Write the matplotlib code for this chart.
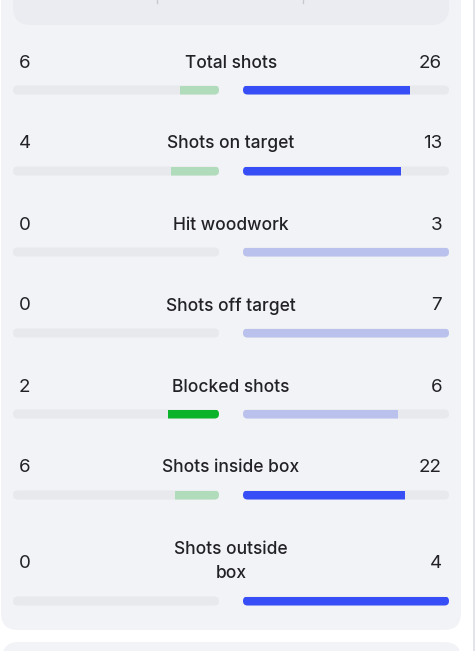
import matplotlib.pyplot as plt
from matplotlib.patches import FancyBboxPatch

# Shot stats, home vs away
labels = ["Total shots", "Shots on target", "Hit woodwork", "Shots off target",
          "Blocked shots", "Shots inside box", "Shots outside\nbox"]
home = [6, 4, 0, 0, 2, 6, 0]
away = [26, 13, 3, 7, 6, 22, 4]
# which side gets the strong colour in each row
strong = ["away", "away", "", "", "home", "away", "away"]

GREEN, GREEN_L = "#0bb32a", "#b0dcbb"
BLUE, BLUE_L = "#374df5", "#bac1ec"
TRACK = "#e8e9ec"
PANEL = "#f2f3f7"
TXT = "#222226"

plt.rcParams['font.family'] = ['Inter', 'DejaVu Sans']

fig = plt.figure(figsize=(4.75, 6.51), dpi=100)
fig.patch.set_facecolor("white")
ax = fig.add_axes([0, 0, 1, 1])
ax.set_xlim(0, 475)
ax.set_ylim(651, 0)
ax.axis("off")

# panel backgrounds
ax.add_patch(FancyBboxPatch((1, -40), 460, 670, boxstyle="round,pad=0,rounding_size=17",
                            fc=PANEL, ec="none"))
ax.add_patch(FancyBboxPatch((2, 642), 459, 60, boxstyle="round,pad=0,rounding_size=17",
                            fc=PANEL, ec="none"))
ax.add_patch(FancyBboxPatch((13, -40), 436, 65, boxstyle="round,pad=0,rounding_size=18",
                            fc="#ebecf1", ec="none"))
ax.plot([157, 157], [0, 3], color="#c8c9ce", lw=1)
ax.plot([303, 303], [0, 3], color="#c8c9ce", lw=1)
ax.add_patch(plt.Rectangle((472.5, 0), 3, 651, fc="#e3e4e9", ec="none"))

bar_w, bar_h = 206, 9
lx, rx = 13, 243
y = 90
for lab, h, a, s in zip(labels, home, away, strong):
    nlines = lab.count("\n") + 1
    y += 25 * (nlines - 1)
    ty = y - 27 - 12 * (nlines - 1)
    ax.text(231, ty - 0.5 * (nlines - 1), lab, ha="center", va="center", fontsize=12.5,
            fontweight=500, color=TXT, linespacing=1.6)
    ax.text(18.5, ty + 1 * (nlines - 1), str(h), ha="left", va="center",
            fontsize=13.5, color=TXT)
    ax.text(442, ty + 1 * (nlines - 1), str(a), ha="right", va="center",
            fontsize=13.5, color=TXT)

    tot = h + a
    for side, val in (("home", h), ("away", a)):
        x0 = lx if side == "home" else rx
        track = FancyBboxPatch((x0, y - bar_h / 2), bar_w, bar_h,
                               boxstyle="round,pad=0,rounding_size=4.5",
                               fc=TRACK, ec="none")
        ax.add_patch(track)
        frac = val / tot if tot else 0
        if frac == 0:
            continue
        if side == "home":
            col = GREEN if s == "home" else GREEN_L
            left = lx + bar_w * (1 - frac)
        else:
            col = BLUE if s == "away" else BLUE_L
            left = rx
        bars = ax.barh(y, bar_w * frac, left=left, height=bar_h, color=col)
        for b in bars:
            b.set_clip_path(track)
    y += 81

fig.savefig("out.png", dpi=100)
